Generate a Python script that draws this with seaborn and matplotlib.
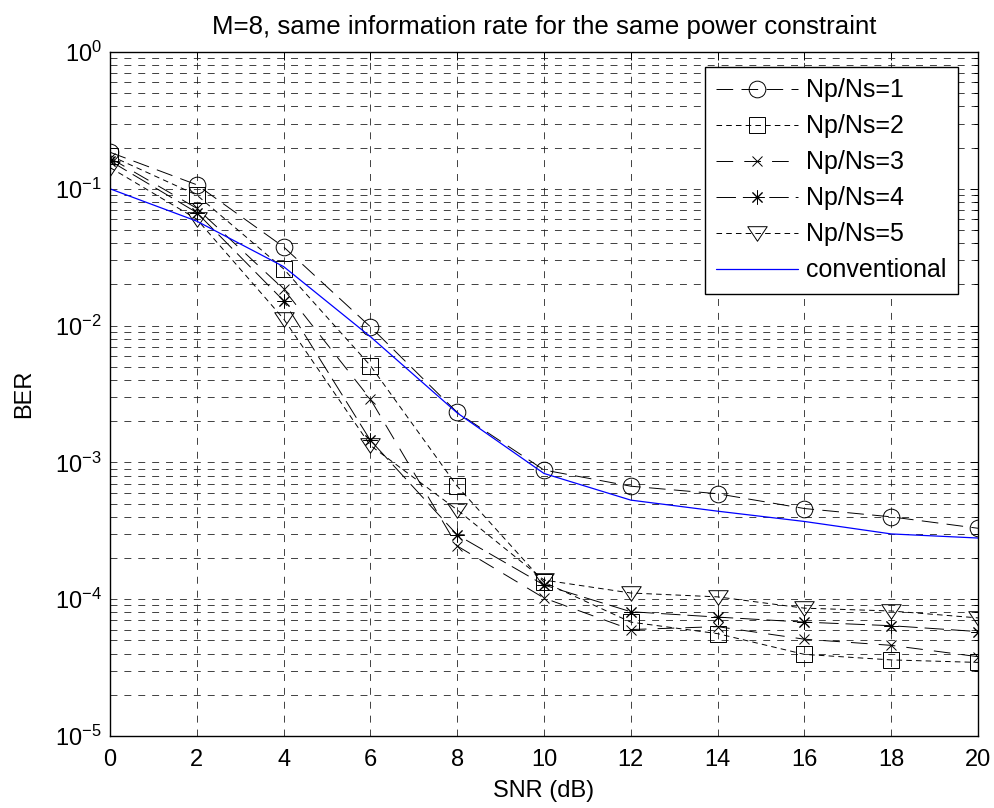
import numpy as np
import pandas as pd
import matplotlib
matplotlib.use("Agg")
import matplotlib.pyplot as plt
import seaborn as sns
from matplotlib.lines import Line2D
from matplotlib.path import Path

# ---- data ----
snr = [0, 2, 4, 6, 8, 10, 12, 14, 16, 18, 20]
ber_np1 = [0.185, 0.107, 0.0376, 0.0098, 0.00232, 0.00088, 0.00067, 0.00059, 0.00046, 0.00040, 0.00033]
ber_np2 = [0.175, 0.090, 0.026, 0.0051, 0.00067, 0.000133, 6.8e-5, 5.6e-5, 3.95e-5, 3.6e-5, 3.45e-5]
ber_np3 = [0.168, 0.072, 0.0185, 0.0029, 0.000245, 0.000102, 6.0e-5, 6.3e-5, 5.1e-5, 4.6e-5, 3.8e-5]
ber_np4 = [0.160, 0.067, 0.0152, 0.00145, 0.000295, 0.000127, 8.1e-5, 7.4e-5, 6.8e-5, 6.4e-5, 5.8e-5]
ber_np5 = [0.143, 0.060, 0.0112, 0.00133, 0.00045, 0.000138, 0.000111, 0.000104, 8.6e-5, 8.2e-5, 7.3e-5]
ber_conv = [0.100, 0.058, 0.027, 0.0083, 0.0023, 0.00083, 0.00053, 0.00044, 0.00037, 0.00030, 0.00028]
series_names = ["Np/Ns=1", "Np/Ns=2", "Np/Ns=3", "Np/Ns=4", "Np/Ns=5", "conventional"]
x_ticks = list(range(0, 21, 2))
title_text = "M=8, same information rate for the same power constraint"

sns.set_style("white")
plt.rcParams["font.family"] = ["Liberation Sans", "DejaVu Sans"]
plt.rcParams["mathtext.fontset"] = "custom"
plt.rcParams["mathtext.rm"] = "Liberation Sans"
plt.rcParams["lines.scale_dashes"] = False
for k in ["text.color", "axes.labelcolor", "xtick.color", "ytick.color"]:
    plt.rcParams[k] = "black"

fig = plt.figure(figsize=(9.94, 8.08), dpi=100)
ax = fig.add_axes([110 / 994, 72 / 808, 868 / 994, 684 / 808])

tri = Path([(-1, 0.7), (1, 0.7), (0, -0.8), (-1, 0.7)],
           [Path.MOVETO, Path.LINETO, Path.LINETO, Path.CLOSEPOLY])
styles = [
    dict(marker="o", ms=12, dash=(12, 6)),
    dict(marker="s", ms=11.5, dash=(4, 3)),
    dict(marker="x", ms=7, dash=(12, 8)),
    dict(marker=(8, 2, 0), ms=10, dash=(14, 5)),
    dict(marker=tri, ms=14, dash=(4, 3)),
]
all_y = [ber_np1, ber_np2, ber_np3, ber_np4, ber_np5]

handles = []
for name, yv, st in zip(series_names[:5], all_y, styles):
    df = pd.DataFrame({"snr": snr, "ber": yv})
    sns.lineplot(data=df, x="snr", y="ber", ax=ax, color="black", lw=0.7,
                 marker=st["marker"], markersize=st["ms"], markerfacecolor="none",
                 markeredgecolor="black", markeredgewidth=0.7,
                 linestyle=(0, st["dash"]), legend=False)
    handles.append(Line2D([], [], color="black", lw=0.7, linestyle=(0, st["dash"]),
                          marker=st["marker"], markersize=st["ms"], markerfacecolor="none",
                          markeredgecolor="black", markeredgewidth=0.7))

dfc = pd.DataFrame({"snr": snr, "ber": ber_conv})
sns.lineplot(data=dfc, x="snr", y="ber", ax=ax, color="#0000ff", lw=0.9, legend=False)
handles.append(Line2D([], [], color="#0000ff", lw=0.9))

ax.set_yscale("log")
ax.set_xlim(0, 20)
ax.set_ylim(1e-5, 1)
ax.set_xticks(x_ticks)
ax.set_xticklabels([str(t) for t in x_ticks])
ax.yaxis.set_major_locator(matplotlib.ticker.LogLocator(base=10, numticks=10))
ax.yaxis.set_minor_locator(matplotlib.ticker.LogLocator(base=10, subs=np.arange(2, 10), numticks=20))

ax.grid(True, which="both", axis="y", color="#222222", lw=0.6, linestyle=(0, (5, 5)))
ax.grid(True, which="major", axis="x", color="#222222", lw=0.6, linestyle=(0, (5, 5)))

ax.tick_params(axis="both", which="both", direction="in", top=True, right=True,
               labelsize=17, color="black")
ax.tick_params(axis="x", which="major", pad=9)
ax.tick_params(axis="y", which="major", pad=6)
ax.tick_params(which="major", length=6, width=0.7)
ax.tick_params(which="minor", length=3, width=0.7)
for s in ax.spines.values():
    s.set_color("black")
    s.set_linewidth(1.0)

ax.set_xlabel("SNR (dB)", fontsize=17, labelpad=7)
ax.set_ylabel("BER", fontsize=17, labelpad=14)
ax.set_title(title_text, fontsize=18.6, pad=13)

leg = ax.legend(handles, series_names, loc="upper right", bbox_to_anchor=(0.977, 0.978),
                fontsize=18, handlelength=3.3, frameon=True, fancybox=False,
                borderpad=0.45, labelspacing=0.48, handletextpad=0.32, borderaxespad=0)
leg.get_frame().set_edgecolor("black")
leg.get_frame().set_linewidth(1.0)
leg.get_frame().set_alpha(1)

fig.savefig("out.png", dpi=100, facecolor="white")
